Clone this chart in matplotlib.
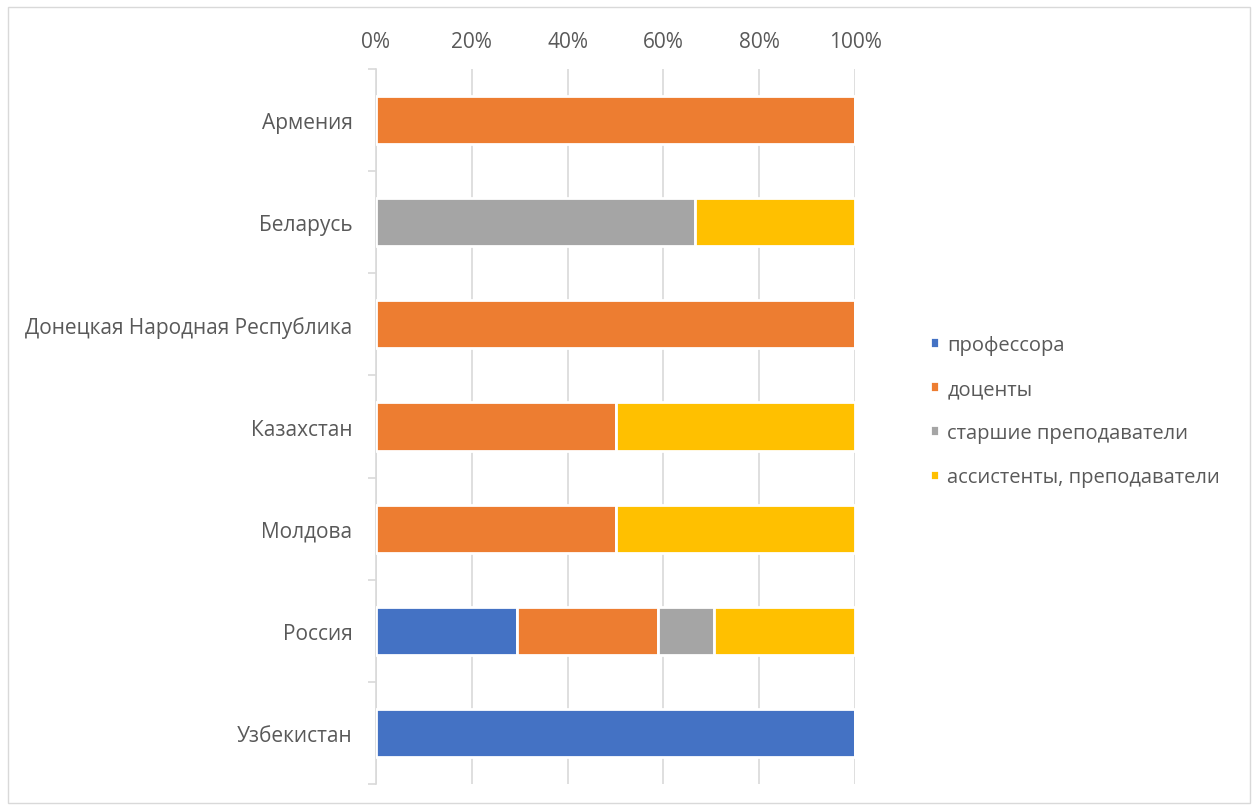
import matplotlib.pyplot as plt
from matplotlib.patches import Rectangle
import numpy as np

plt.rcParams['font.family'] = ['Open Sans', 'DejaVu Sans']

countries = ['Армения', 'Беларусь', 'Донецкая Народная Республика', 'Казахстан',
             'Молдова', 'Россия', 'Узбекистан']
professors = [0, 0, 0, 0, 0, 29.4, 100]
docents = [100, 0, 100, 50, 50, 29.4, 0]
senior = [0, 66.7, 0, 0, 0, 11.8, 0]
assistants = [0, 33.3, 0, 50, 50, 29.4, 0]

series = [('профессора', professors, '#4472C4'),
          ('доценты', docents, '#ED7D31'),
          ('старшие преподаватели', senior, '#A5A5A5'),
          ('ассистенты, преподаватели', assistants, '#FFC000')]

fig = plt.figure(figsize=(12.59, 8.12), dpi=100)
ax = fig.add_axes([376 / 1259, 1 - 785 / 812, (855 - 376) / 1259, (785 - 70) / 812])

y = np.arange(len(countries))
left = np.zeros(len(countries))
for name, vals, color in series:
    vals = np.array(vals, dtype=float)
    ax.barh(y, vals, left=left, height=0.47, color=color, edgecolor='white',
            linewidth=2, label=name, zorder=3)
    left += vals

ax.set_xlim(0, 100)
ax.set_ylim(len(countries) - 0.5, -0.5)
ax.set_yticks(y)
ax.set_yticklabels(countries)
ax.set_yticks(np.arange(-0.5, len(countries)), minor=True)
ax.set_xticks(np.arange(0, 101, 20))
ax.set_xticklabels(['%d%%' % v for v in range(0, 101, 20)])
ax.xaxis.tick_top()
ax.tick_params(axis='x', length=0, pad=12, labelsize=15, colors='#595959')
ax.tick_params(axis='y', which='major', length=0, pad=17, labelsize=15, colors='#595959')
ax.tick_params(axis='y', which='minor', length=6, width=1.2, color='#d9d9d9')
ax.grid(axis='x', color='#d9d9d9', linewidth=1.2, zorder=0)
for s in ['top', 'right', 'bottom']:
    ax.spines[s].set_visible(False)
ax.spines['left'].set_color('#d9d9d9')
ax.spines['left'].set_linewidth(1.2)

leg = fig.legend(loc='center left', bbox_to_anchor=(912 / 1259, 1 - 412 / 812),
                 frameon=False, fontsize=14.5, handlelength=0.45, handleheight=0.45,
                 handletextpad=0.4, labelspacing=1.2, labelcolor='#595959')

fig.patches.append(Rectangle((8 / 1259, 8 / 812), 1242 / 1259, 796 / 812,
                             transform=fig.transFigure, fill=False,
                             edgecolor='#d9d9d9', linewidth=1))

fig.savefig('out.png', dpi=100)
